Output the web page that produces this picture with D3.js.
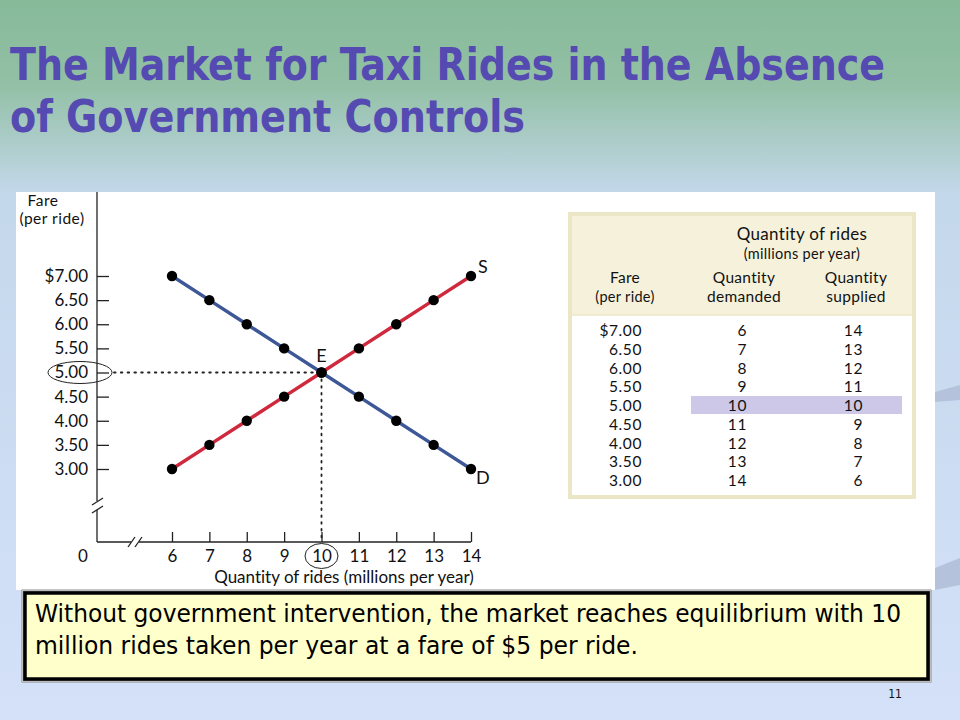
<!DOCTYPE html>
<html><head><meta charset="utf-8">
<script src="https://cdn.jsdelivr.net/npm/d3@7/dist/d3.min.js"></script>
<style>html,body{margin:0;padding:0;overflow:hidden;} svg{display:block;} text{font-variant-ligatures:none;}</style>
</head><body>
<script>
// ---- data ----
const fares = [7.00, 6.50, 6.00, 5.50, 5.00, 4.50, 4.00, 3.50, 3.00];
const qDemanded = [6, 7, 8, 9, 10, 11, 12, 13, 14];
const qSupplied = [14, 13, 12, 11, 10, 9, 8, 7, 6];
const xTicks = [6, 7, 8, 9, 10, 11, 12, 13, 14];
const yTickLabels = ["$7.00", "6.50", "6.00", "5.50", "5.00", "4.50", "4.00", "3.50", "3.00"];
const eqFare = 5.00, eqQty = 10;
const titleLines = ["The Market for Taxi Rides in the Absence", "of Government Controls"];
const noteLines = ["Without government intervention, the market reaches equilibrium with 10",
                   "million rides taken per year at a fare of $5 per ride."];

const W = 960, H = 720;
const svg = d3.select("body").append("svg").attr("width", W).attr("height", H);
const defs = svg.append("defs");
const bg = defs.append("linearGradient").attr("id", "bg").attr("x1", 0).attr("y1", 0).attr("x2", 0).attr("y2", 1);
bg.append("stop").attr("offset", "0").attr("stop-color", "#86ba98");
bg.append("stop").attr("offset", "0.12").attr("stop-color", "#93c0a6");
bg.append("stop").attr("offset", "0.27").attr("stop-color", "#c4d8eb");
bg.append("stop").attr("offset", "1").attr("stop-color", "#d4e1f9");
svg.append("rect").attr("width", W).attr("height", H).attr("fill", "url(#bg)");

// faint decorative shapes at right
svg.append("path").attr("d", "M935,392 L960,385 L960,400 L935,402 Z").attr("fill", "#b4c2dc");
svg.append("path").attr("d", "M935,568 L960,558 L960,585 L935,590 Z").attr("fill", "#b4c2dc");

// title
const titleFont = "'DejaVu Sans Condensed','DejaVu Sans',sans-serif";
const tw = [875, 515];
titleLines.forEach((t, i) => {
  svg.append("text").attr("x", 10).attr("y", 80 + i * 52)
    .attr("font-family", titleFont).attr("font-weight", "bold").attr("font-size", 45)
    .attr("fill", "#5549b2").attr("textLength", tw[i]).attr("lengthAdjust", "spacingAndGlyphs")
    .text(t);
});

// white panel
svg.append("rect").attr("x", 16).attr("y", 192).attr("width", 919).attr("height", 398).attr("fill", "#ffffff");

const chartFont = "Lato,'Open Sans',sans-serif";
const x = d3.scaleLinear().domain([6, 14]).range([172, 471]);
const y = d3.scaleLinear().domain([3, 7]).range([469, 276]);
const axX = 97, axY = 542;

const g = svg.append("g").attr("font-family", chartFont);

// axis lines with breaks
const ax = g.append("g").attr("stroke", "#222").attr("stroke-width", 1.3).attr("fill", "none");
ax.append("line").attr("x1", axX).attr("x2", axX).attr("y1", 192).attr("y2", 501);
ax.append("line").attr("x1", axX).attr("x2", axX).attr("y1", 510).attr("y2", axY);
ax.append("line").attr("x1", axX).attr("x2", 131).attr("y1", axY).attr("y2", axY);
ax.append("line").attr("x1", 139).attr("x2", x(14)).attr("y1", axY).attr("y2", axY);
ax.append("line").attr("x1", 92).attr("y1", 505).attr("x2", 103).attr("y2", 498);
ax.append("line").attr("x1", 92).attr("y1", 513).attr("x2", 103).attr("y2", 506);
ax.append("line").attr("x1", 128).attr("y1", 547).attr("x2", 135).attr("y2", 537);
ax.append("line").attr("x1", 135).attr("y1", 547).attr("x2", 142).attr("y2", 537);

// x axis ticks
const xAxis = d3.axisBottom(x).tickValues(xTicks).tickSizeInner(-10).tickSizeOuter(0).tickPadding(8).tickFormat(d3.format("d"));
const gx = g.append("g").attr("transform", `translate(0,${axY})`).call(xAxis);
gx.select(".domain").remove();
gx.selectAll("line").attr("stroke", "#222").attr("stroke-width", 1.3);
gx.selectAll("text").attr("font-size", 17).attr("fill", "#111").attr("font-family", chartFont);
g.append("text").attr("x", 83).attr("y", 562).attr("text-anchor", "middle").attr("font-size", 17).attr("fill", "#111").text("0");

// y axis ticks
const yAxis = d3.axisLeft(y).tickValues(fares).tickSizeInner(-12).tickSizeOuter(0).tickPadding(9)
  .tickFormat((d, i) => yTickLabels[i]);
const gy = g.append("g").attr("transform", `translate(${axX},0)`).call(yAxis);
gy.select(".domain").remove();
gy.selectAll("line").attr("stroke", "#222").attr("stroke-width", 1.3);
gy.selectAll("text").attr("font-size", 17).attr("fill", "#111").attr("font-family", chartFont);

// axis titles
g.append("text").attr("x", 43).attr("y", 206).attr("text-anchor", "middle").attr("font-size", 15.5).attr("letter-spacing", 0.5).attr("fill", "#111").text("Fare");
g.append("text").attr("x", 52).attr("y", 224).attr("text-anchor", "middle").attr("font-size", 15.5).attr("letter-spacing", 0.5).attr("fill", "#111").text("(per ride)");
g.append("text").attr("x", 344).attr("y", 583).attr("text-anchor", "middle").attr("font-size", 17).attr("fill", "#111").text("Quantity of rides (millions per year)");

// dotted guides
g.append("line").attr("x1", 114).attr("x2", x(eqQty)).attr("y1", y(eqFare)).attr("y2", y(eqFare))
  .attr("stroke", "#222").attr("stroke-width", 1.8).attr("stroke-dasharray", "1.6,5.2").attr("stroke-linecap", "round");
g.append("line").attr("x1", x(eqQty)).attr("x2", x(eqQty)).attr("y1", y(eqFare)).attr("y2", axY - 2)
  .attr("stroke", "#222").attr("stroke-width", 1.8).attr("stroke-dasharray", "1.6,5.2").attr("stroke-linecap", "round");

// ellipses
g.append("ellipse").attr("cx", 80).attr("cy", y(eqFare)).attr("rx", 32).attr("ry", 11).attr("fill", "none").attr("stroke", "#222").attr("stroke-width", 1);
g.append("ellipse").attr("cx", x(eqQty)).attr("cy", 556).attr("rx", 16.5).attr("ry", 12.5).attr("fill", "none").attr("stroke", "#222").attr("stroke-width", 1);

// curves
const demand = fares.map((f, i) => ({ q: qDemanded[i], p: f }));
const supply = fares.map((f, i) => ({ q: qSupplied[i], p: f }));
const line = d3.line().x(d => x(d.q)).y(d => y(d.p));
g.append("path").datum(demand).attr("d", line).attr("fill", "none").attr("stroke", "#3d5797").attr("stroke-width", 3.5);
g.append("path").datum(supply).attr("d", line).attr("fill", "none").attr("stroke", "#d0283d").attr("stroke-width", 3.5);
g.selectAll(".dd").data(demand).join("circle").attr("cx", d => x(d.q)).attr("cy", d => y(d.p)).attr("r", 5.2).attr("fill", "#000");
g.selectAll(".ds").data(supply).join("circle").attr("cx", d => x(d.q)).attr("cy", d => y(d.p)).attr("r", 5.2).attr("fill", "#000");

g.append("text").attr("x", x(14) + 7).attr("y", y(7) - 3).attr("font-size", 18).attr("fill", "#111").text("S");
g.append("text").attr("x", x(14) + 5).attr("y", y(3) + 15).attr("font-size", 18).attr("fill", "#111").text("D");
g.append("text").attr("x", x(eqQty)).attr("y", y(eqFare) - 11).attr("text-anchor", "middle").attr("font-size", 18).attr("fill", "#111").text("E");

// table
const tb = svg.append("g").attr("font-family", chartFont).attr("fill", "#111");
tb.append("rect").attr("x", 570).attr("y", 214).attr("width", 344).attr("height", 283).attr("fill", "#f6f1db").attr("stroke", "#ebe7c6").attr("stroke-width", 4);
tb.append("rect").attr("x", 572).attr("y", 315).attr("width", 340).attr("height", 180).attr("fill", "#ffffff");
tb.append("line").attr("x1", 572).attr("x2", 912).attr("y1", 315).attr("y2", 315).attr("stroke", "#ebe7c6").attr("stroke-width", 1.5);
tb.append("rect").attr("x", 691).attr("y", 396).attr("width", 211).attr("height", 18).attr("fill", "#cdc8e8");
const ht = (tx, tx0, ty, fs) => tb.append("text").attr("x", tx0).attr("y", ty).attr("text-anchor", "middle").attr("font-size", fs).attr("letter-spacing", 0.3).text(tx);
ht("Quantity of rides", 802, 240, 17);
ht("(millions per year)", 802, 259, 14.5);
ht("Fare", 625, 283, 15.5);
ht("(per ride)", 625, 302, 14.5);
ht("Quantity", 744, 283, 15.5);
ht("demanded", 744, 302, 15.5);
ht("Quantity", 856, 283, 15.5);
ht("supplied", 856, 302, 15.5);
const rowY = d3.scalePoint().domain(fares).range([336, 486]);
fares.forEach((f, i) => {
  tb.append("text").attr("x", 642).attr("y", rowY(f)).attr("text-anchor", "end").attr("font-size", 15.5).attr("letter-spacing", 0.6).text(yTickLabels[i]);
  tb.append("text").attr("x", 747).attr("y", rowY(f)).attr("text-anchor", "end").attr("font-size", 15.5).attr("letter-spacing", 0.6).text(qDemanded[i]);
  tb.append("text").attr("x", 863).attr("y", rowY(f)).attr("text-anchor", "end").attr("font-size", 15.5).attr("letter-spacing", 0.6).text(qSupplied[i]);
});

// note box
svg.append("rect").attr("x", 21.5).attr("y", 589.5).attr("width", 910).attr("height", 93).attr("fill", "#8a8a8a");
svg.append("rect").attr("x", 22.5).attr("y", 590.5).attr("width", 908).attr("height", 91).attr("fill", "none").attr("stroke", "#bbbbbb").attr("stroke-width", 1);
svg.append("rect").attr("x", 25).attr("y", 593).attr("width", 903).attr("height", 86).attr("fill", "#ffffcc").attr("stroke", "#000").attr("stroke-width", 3.5);
const nw = [866, 603];
noteLines.forEach((t, i) => {
  svg.append("text").attr("x", 35).attr("y", 622 + i * 32).attr("font-family", titleFont).attr("font-size", 24)
    .attr("fill", "#000").attr("textLength", nw[i]).attr("lengthAdjust", "spacingAndGlyphs").text(t);
});

svg.append("text").attr("x", 895).attr("y", 698).attr("text-anchor", "middle").attr("font-family", titleFont).attr("font-size", 12).attr("fill", "#111").text("11");
</script>
</body></html>
